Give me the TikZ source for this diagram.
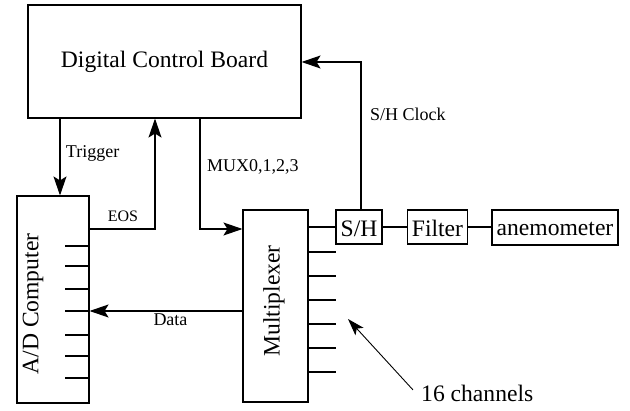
\documentclass[tikz,border=0pt]{standalone}
\usepackage{fontspec}
\setmainfont{Liberation Serif}
\usetikzlibrary{arrows.meta}
\begin{document}
\begin{tikzpicture}[x=1pt,y=-1pt,
  box/.style={draw,line width=1.1pt,inner sep=0pt,font=\fontsize{23.6}{26}\selectfont},
  big/.style={font=\fontsize{23.6}{26}\selectfont,inner sep=0pt},
  lab/.style={font=\fontsize{18}{20}\selectfont,inner sep=0pt,anchor=base west},
  wire/.style={line width=1.1pt},
  arr/.style={wire,-{Stealth[length=19pt,width=13pt,inset=4pt]}},
  thinarr/.style={line width=0.9pt,-{Stealth[length=17pt,width=11pt,inset=4pt]}}]
\useasboundingbox (0,0) rectangle (630,411);
% blocks
\node[box,minimum width=273pt,minimum height=113pt] (dcb) at (164.5,61.5) {Digital Control Board};
\node[box,minimum width=72pt,minimum height=207pt] (ad) at (53,299.5) {};
\node[big,rotate=90] (adt) at (33,304) {A/D Computer};
\node[box,minimum width=65pt,minimum height=192pt] (mux) at (275.5,306) {};
\node[big,rotate=90] (muxt) at (274,301) {Multiplexer};
\node[box,minimum width=46pt,minimum height=34pt,text height=20pt,text depth=0pt] (sh) at (359,227) {S/H};
\node[box,minimum width=60pt,minimum height=34pt,text height=20pt,text depth=0pt] (filt) at (437.5,227) {Filter};
\node[box,minimum width=126pt,minimum height=35pt,text height=16pt,text depth=0pt] (anem) at (555,227.5) {anemometer};
% chain
\draw[wire] (mux.east |- sh.west) -- (sh.west);
\draw[wire] (sh.east) -- (filt.west);
\draw[wire] (filt.east) -- (filt.east -| anem.west);
% ticks
\foreach \y in {252,276,300,324,348,372} \draw[wire] (mux.east |- 0,\y) -- ++(27,0);
\foreach \y in {246,266,289,311,335,356,378} \draw[wire] (ad.east |- 0,\y) -- ++(-25,0);
% signals
\draw[arr] (dcb.south -| 60,0) -- (ad.north -| 60,0);
\draw[arr] (ad.east |- 0,229) -| (dcb.south -| 155,0);
\draw[arr] (dcb.south -| 200,0) |- (mux.west |- 0,229);
\draw[arr] (mux.west |- 0,311) -- (ad.east |- 0,311);
\draw[arr] (sh.north -| 361,0) |- (dcb.east |- 0,62);
% labels
\node[lab] (trig) at (65.7,158) {Trigger};
\node[lab] (muxlab) at (207,171.7) {MUX0,1,2,3};
\node[lab] (shc) at (370,121) {S/H Clock};
\node[lab,font=\fontsize{16}{18}\selectfont] (eos) at (107.7,221.7) {EOS};
\node[lab] (data) at (153.3,325.7) {Data};
\node[big,anchor=base west] (ch16) at (421,402) {16 channels};
\coordinate (chtip) at (348,319);
\draw[thinarr] ([xshift=-8pt,yshift=4pt]ch16.west) -- (chtip);
\end{tikzpicture}
\end{document}
